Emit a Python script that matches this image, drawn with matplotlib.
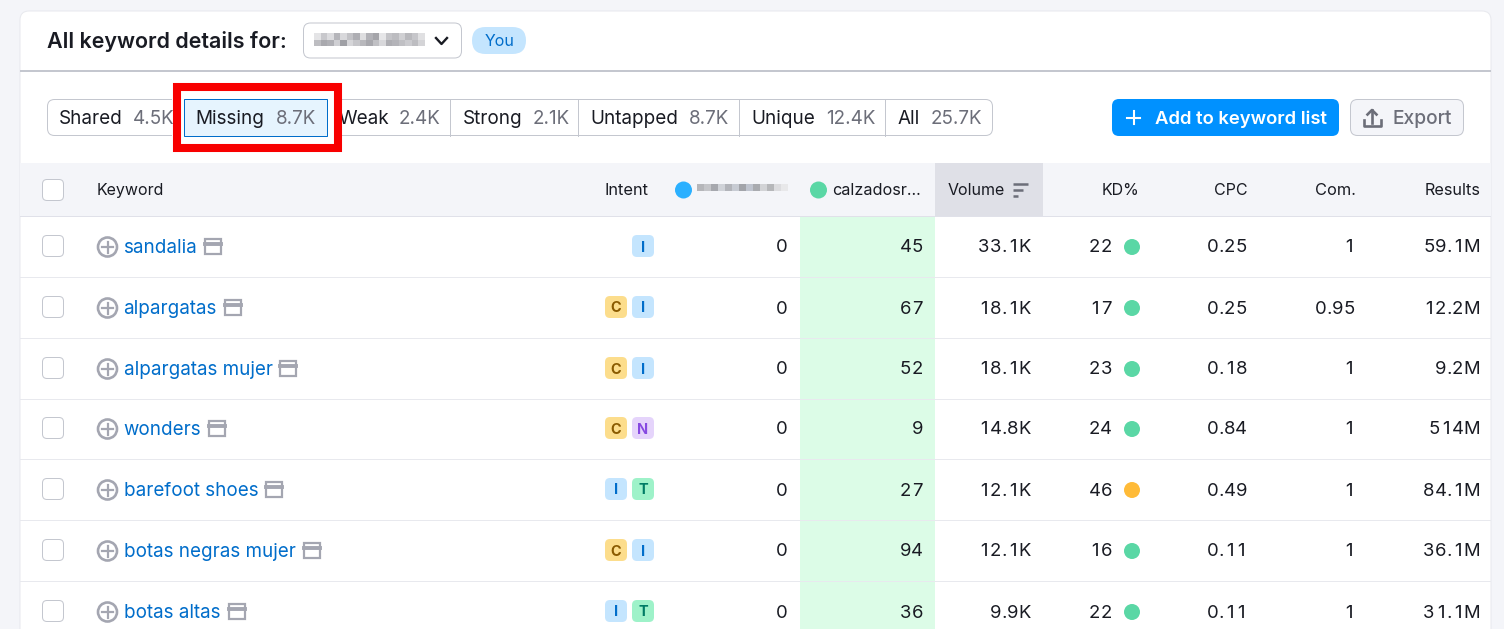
#!/usr/bin/env python3
"""Keyword gap table screenshot, rebuilt in pixel coordinates."""

import matplotlib
matplotlib.use('Agg')
import matplotlib.pyplot as plt
from matplotlib.patches import FancyBboxPatch, Rectangle, Circle

plt.rcParams['font.family'] = ['Inter', 'DejaVu Sans']

# Table data
keywords = ['sandalia', 'alpargatas', 'alpargatas mujer', 'wonders',
            'barefoot shoes', 'botas negras mujer', 'botas altas']
intents = [['I'], ['C', 'I'], ['C', 'I'], ['C', 'N'], ['I', 'T'], ['C', 'I'], ['I', 'T']]
own_pos = [0, 0, 0, 0, 0, 0, 0]
comp_pos = [45, 67, 52, 9, 27, 94, 36]
volume = ['33.1K', '18.1K', '18.1K', '14.8K', '12.1K', '12.1K', '9.9K']
kd = [22, 17, 23, 24, 46, 16, 22]
cpc = ['0.25', '0.25', '0.18', '0.84', '0.49', '0.11', '0.11']
com = ['1', '0.95', '1', '1', '1', '1', '1']
results = ['59.1M', '12.2M', '9.2M', '514M', '84.1M', '36.1M', '31.1M']

tabs = ['Shared', 'Missing', 'Weak', 'Strong', 'Untapped', 'Unique', 'All']
tab_counts = ['4.5K', '8.7K', '2.4K', '2.1K', '8.7K', '12.4K', '25.7K']

# Layout, all in screenshot pixels
row_y = [246, 307, 368, 428, 489, 550, 611]
row_lines = [277, 338, 399, 459, 520, 581]
tab_label_x = [59, 195.5, 338.5, 463, 590, 751, 897.5]
tab_count_x = [133, 276, 399, 533, 689, 826, 931]
tab_edges = [450, 578, 739, 885]
kw_widths = [73, 93, 148, 77, 134, 172, 97]

INK = '#191b23'
GREY = '#6c6e79'
LINK = '#006dca'
LINE = '#c4c7cf'
ICON = '#a4a6b1'
PX = 0.72  # one px in points at dpi 100

badge_fill = {'I': '#c4e5fe', 'C': '#fcdd8c', 'N': '#e5d4fb', 'T': '#9ef2c9'}
badge_text = {'I': '#006dca', 'C': '#8a5a00', 'N': '#8649e1', 'T': '#007c65'}
cell_w = {'.': 5.6, 'K': 12.6, 'M': 16.5}  # digits get 11.6

fig = plt.figure(figsize=(15.04, 6.29), dpi=100, facecolor='#f4f5f9')
ax = fig.add_axes([0, 0, 1, 1])
ax.set_xlim(0, 1504)
ax.set_ylim(629, 0)
ax.axis('off')


def rbox(x, y, w, h, r, fc, ec='none', lw=0.72, z=2):
    ax.add_patch(FancyBboxPatch((x + r, y + r), w - 2 * r, h - 2 * r,
                                boxstyle='round,pad=%f,rounding_size=%f' % (r, r),
                                fc=fc, ec=ec, lw=lw, zorder=z))


def rect(x, y, w, h, fc, z=1):
    ax.add_patch(Rectangle((x, y), w, h, fc=fc, ec='none', zorder=z))


def label(x, y, s, px=19, color=INK, ha='left', weight='normal', z=5):
    ax.text(x, y, s, fontsize=px * PX, color=color, ha=ha, va='center_baseline',
            fontweight=weight, zorder=z)


def number(right, y, s, px=18.5):
    # the table uses tabular figures, so lay them out cell by cell
    x = right
    for ch in reversed(s):
        w = cell_w.get(ch, 11.6)
        label(x - w / 2, y, ch, px=px, ha='center')
        x -= w


def mosaic(x, y, shades, size=5):
    # pixelated stand-in for the blurred domain name
    for i, col in enumerate(shades):
        for j, c in enumerate(col):
            rect(x + i * size, y + j * size, size, size, c, z=4)


# ---- card ----
rbox(20, 11, 1471, 640, 9, 'white', '#e8e9ee', 0.72, z=0)
rect(20, 70, 1471, 2, LINE)

label(47, 40, 'All keyword details for:', px=21.5, weight='semibold')
rbox(303.5, 23, 158, 35, 7, 'white', LINE)
shades_a = [['#e4e4e6', '#bdbdc1'], ['#c8c8cc', '#a9a9ae'], ['#dcdcdf', '#b0b0b5'],
            ['#b5b5ba', '#cfcfd3'], ['#d8d8db', '#9fa0a5'], ['#c2c2c6', '#d6d6d9'],
            ['#aeaeb3', '#c6c6ca'], ['#dedee0', '#b8b8bc'], ['#b2b2b7', '#a8a8ad'],
            ['#a5a5aa', '#c0c0c4'], ['#e6e6e8', '#d8d8db'], ['#c4c4c8', '#aeaeb3'],
            ['#bcbcc0', '#b4b4b9'], ['#d0d0d3', '#c0c0c4'], ['#b9b9bd', '#cbcbcf'],
            ['#c6c6ca', '#bdbdc1'], ['#e0e0e2', '#d4d4d7']]
mosaic(314, 33, shades_a, size=6.5)
ax.plot([436, 441.5, 447], [38, 44, 38], color=INK, lw=1.7, zorder=5)
rbox(472, 27, 54, 27, 13.5, '#c4e5fe')
label(499.5, 40, 'You', px=16, color='#006dca', ha='center')

# ---- filter tabs ----
rbox(47.5, 99.5, 945, 36, 7, 'white', LINE)
for x in tab_edges:
    ax.plot([x, x], [99, 136], color=LINE, lw=0.72, zorder=3)
rect(172, 83, 170, 67, 'white', z=3)
rect(184, 99, 143, 37, '#e6f4fe', z=4)
ax.add_patch(Rectangle((184, 99), 143, 37, fc='none', ec='#006dca', lw=0.72, zorder=5))
for name, count, lx, cx in zip(tabs, tab_counts, tab_label_x, tab_count_x):
    label(lx, 117.5, name, px=18.9, z=6)
    label(cx, 116.5, count, px=18.8, color=GREY, z=6)
ax.add_patch(Rectangle((176.5, 86.5), 161, 61, fc='none', ec='#f80000', lw=5.8, zorder=7))

# buttons
rbox(1112, 99, 227, 37, 7, '#0091ff')
ax.plot([1127, 1140], [117.5, 117.5], color='white', lw=1.5, zorder=5)
ax.plot([1133.5, 1133.5], [111, 124], color='white', lw=1.5, zorder=5)
label(1155, 117, 'Add to keyword list', px=18.5, color='white', weight='semibold')
rbox(1350.5, 99.5, 113, 36, 7, '#f4f5f9', LINE)
ax.plot([1363.5, 1363.5, 1380.5, 1380.5], [120, 126, 126, 120], color=GREY, lw=1.9, zorder=5)
ax.plot([1372, 1372], [123, 110], color=GREY, lw=1.9, zorder=5)
ax.plot([1367.5, 1372, 1376.5], [114.5, 110, 114.5], color=GREY, lw=1.9, zorder=5)
label(1393, 117, 'Export', px=19.2, color=GREY, weight='medium')

# ---- table header ----
rect(20, 163, 1471, 53, '#f4f5f9')
rect(935, 163, 108, 53, '#dfe0e7', z=2)
rect(20, 216, 1471, 1, '#e0e1e9', z=2)
rbox(42.5, 179.5, 21, 21, 4.5, 'white', LINE)
label(97, 189, 'Keyword', px=16)
label(649, 189, 'Intent', px=16.4, ha='right')
ax.add_patch(Circle((683.5, 190), 8.5, fc='#2bb0ff', ec='none', zorder=5))
shades_b = [['#b5b6ba'], ['#c4c5c9'], ['#a6a8ae'], ['#cfd2d8'], ['#b2b4ba'], ['#c7cbd3'],
            ['#a2a4aa'], ['#bfc4cf'], ['#a9abb0'], ['#d2d3d6'], ['#b6b7ba'], ['#dcdcdf'],
            ['#e8e8ea']]
mosaic(697, 184, shades_b, size=7)
ax.add_patch(Circle((818.5, 190), 8.5, fc='#5ad7a5', ec='none', zorder=5))
label(832, 189, 'calzadosr...', px=16.2)
label(948, 189, 'Volume', px=16)
for yy, x2 in zip([183.5, 189.5, 195.5], [1028, 1023, 1018]):
    ax.plot([1013, x2], [yy, yy], color=GREY, lw=1.8, solid_capstyle='butt', zorder=5)
label(1139.5, 189, 'KD%', px=16, ha='right')
label(1248, 189, 'CPC', px=16, ha='right')
label(1356, 189, 'Com.', px=16.4, ha='right')
label(1480, 189, 'Results', px=16.2, ha='right')

# ---- table body ----
rect(800, 217, 135, 412, '#dcfce7')
for y in row_lines:
    rect(20, y, 1471, 1, '#e8e9ee', z=2)


def kd_colour(v):
    return '#ffbb38' if v >= 30 else '#5ad7a5'


for i, y in enumerate(row_y):
    rbox(42.5, y - 10.5, 21, 21, 4.5, 'white', LINE)
    # add-to-list icon
    ax.add_patch(Circle((107.5, y + 1), 9.5, fc='white', ec=ICON, lw=1.9, zorder=4))
    ax.plot([102, 113], [y + 1, y + 1], color=ICON, lw=1.6, zorder=5)
    ax.plot([107.5, 107.5], [y - 4.5, y + 6.5], color=ICON, lw=1.6, zorder=5)
    label(123.5, y, keywords[i], px=18.8, color=LINK)
    # serp icon
    ix = 124 + kw_widths[i] + 8
    ax.add_patch(Rectangle((ix, y - 7), 16, 15, fc='white', ec=ICON, lw=1.6, zorder=4))
    ax.plot([ix, ix + 16], [y - 2.5, y - 2.5], color=ICON, lw=2.8, zorder=5)
    # intent badges
    for j, tag in enumerate(reversed(intents[i])):
        bx = 632 - 27 * j
        rbox(bx, y - 11, 22, 22, 5, badge_fill[tag])
        ax.text(bx + 11, y, tag, fontsize=14.5 * PX, color=badge_text[tag], ha='center',
                va='center_baseline', fontweight='bold', zorder=5)
    number(788, y, str(own_pos[i]))
    number(923, y, str(comp_pos[i]))
    number(1031, y, volume[i])
    number(1112, y, str(kd[i]))
    ax.add_patch(Circle((1132, y + 1), 8, fc=kd_colour(kd[i]), ec='none', zorder=5))
    number(1247, y, cpc[i])
    number(1355, y, com[i])
    number(1480, y, results[i])

fig.savefig('out.png', dpi=100, facecolor=fig.get_facecolor())
